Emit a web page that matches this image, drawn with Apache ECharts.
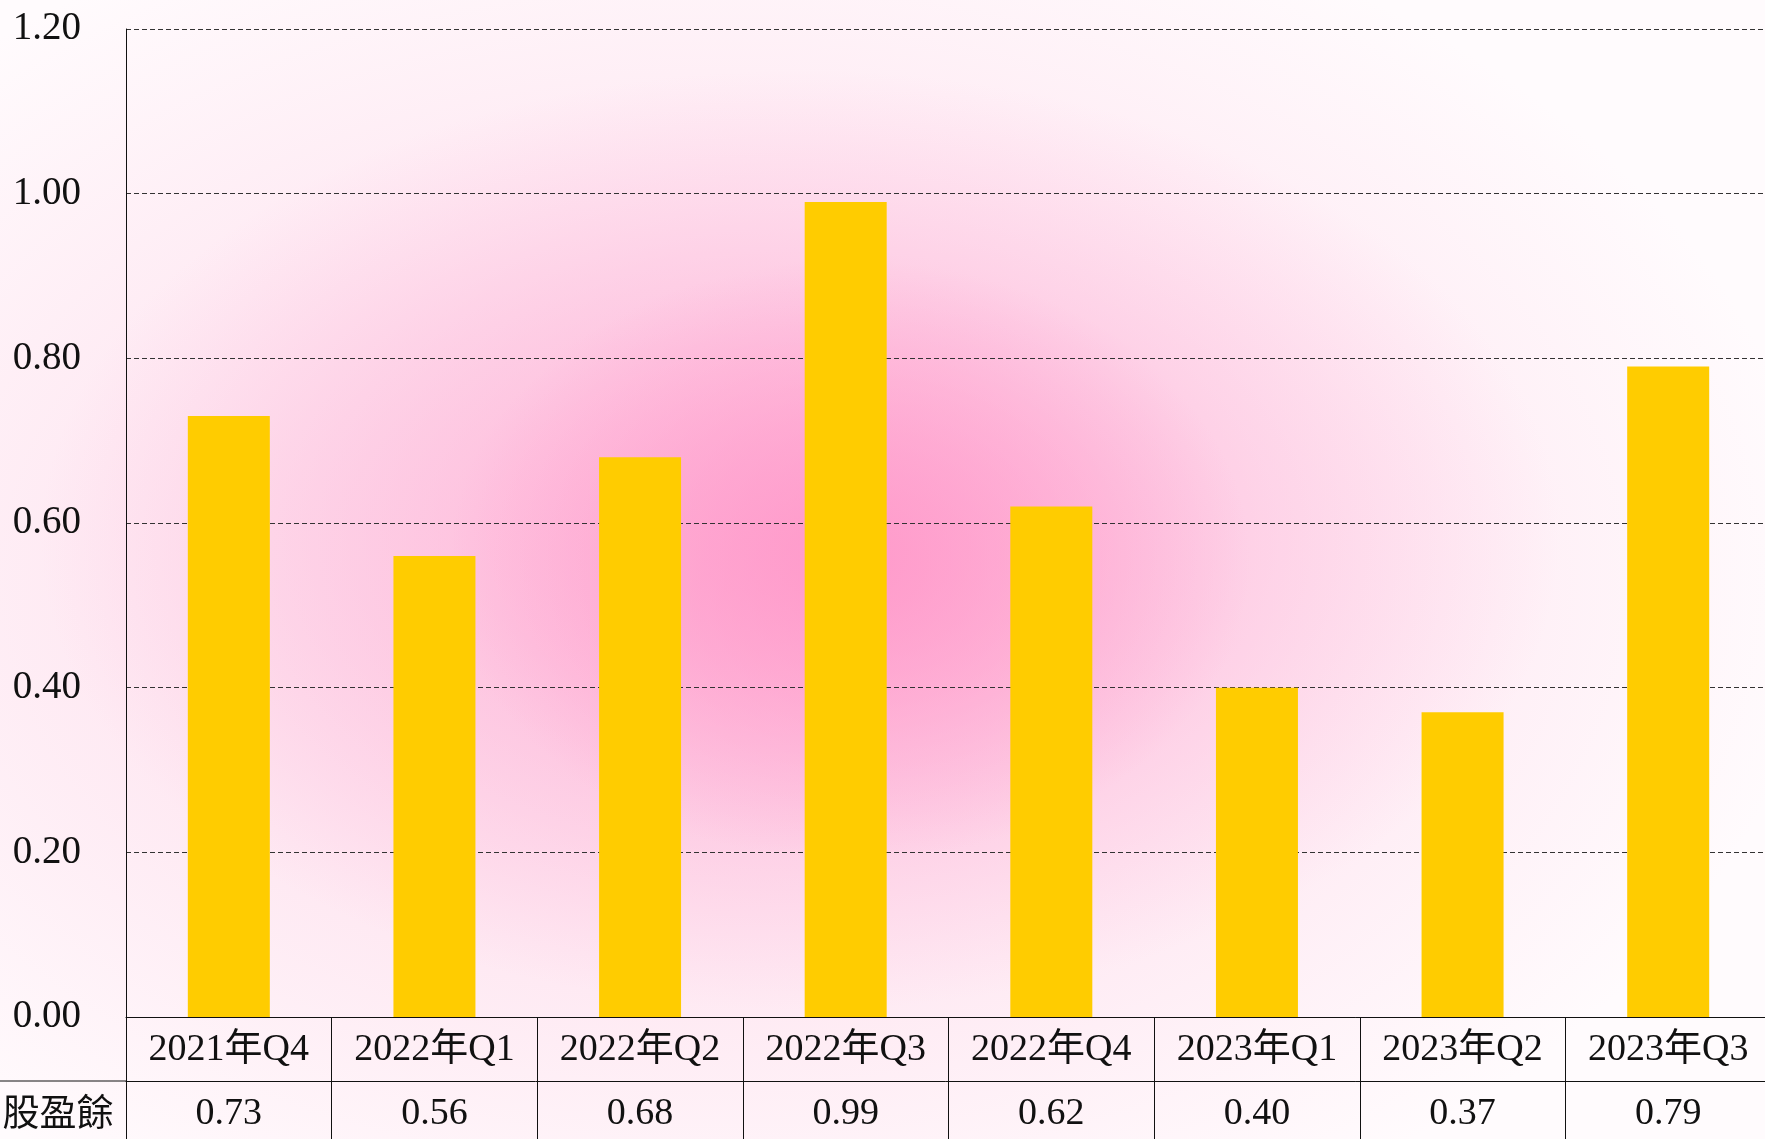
<!DOCTYPE html>
<html>
<head>
<meta charset="utf-8">
<script src="https://cdn.jsdelivr.net/npm/echarts@6/dist/echarts.min.js"></script>
<style>
  html, body { margin: 0; padding: 0; background: #fff; }
  #chart {
    width: 1765px; height: 1139px;
    background:
      radial-gradient(ellipse 400px 300px at 850px 560px, rgba(255,150,200,0.85), rgba(255,150,200,0) 100%),
      radial-gradient(ellipse 760px 470px at 800px 540px, rgba(255,170,212,0.85), rgba(255,170,212,0) 100%),
      radial-gradient(ellipse 1100px 720px at 720px 580px, rgba(253,208,228,0.95), rgba(253,208,228,0) 100%),
      #fffbfd;
  }
</style>
</head>
<body>
<div id="chart"></div>
<script>
// 資料
const quarters = ['2021年Q4', '2022年Q1', '2022年Q2', '2022年Q3', '2022年Q4', '2023年Q1', '2023年Q2', '2023年Q3'];
const eps = [0.73, 0.56, 0.68, 0.99, 0.62, 0.40, 0.37, 0.79];
const rowName = '股盈餘';

const FONT = "'Liberation Serif', 'Noto Sans CJK TC', serif";
const GRID_LEFT = 126, GRID_TOP = 29, GRID_BOTTOM = 122, GRID_WIDTH = 1645;
const ROW_H = 64;
const H = 1139;
const axisY = H - GRID_BOTTOM;       // x 軸所在位置
const rowY = axisY + ROW_H;          // 表格分隔線

const chart = echarts.init(document.getElementById('chart'), null, { renderer: 'canvas' });

chart.setOption({
  backgroundColor: 'transparent',
  animation: false,
  grid: {
    left: GRID_LEFT, width: GRID_WIDTH, top: GRID_TOP, bottom: GRID_BOTTOM,
    containLabel: false, outerBoundsMode: 'none'
  },
  xAxis: [
    {
      type: 'category',
      data: quarters,
      position: 'bottom',
      axisLine: { show: true, lineStyle: { color: '#111', width: 1 } },
      axisTick: { show: true, interval: 0, length: 130, lineStyle: { color: '#111', width: 1 } },
      axisLabel: {
        interval: 0, margin: 13, fontSize: 38, lineHeight: 40,
        color: '#111', fontFamily: FONT
      },
      splitLine: { show: false }
    },
    {
      type: 'category',
      data: quarters,
      position: 'bottom',
      offset: ROW_H,
      axisLine: { show: true, lineStyle: { color: '#111', width: 1 } },
      axisTick: { show: false },
      axisLabel: {
        interval: 0, margin: 13, fontSize: 38, lineHeight: 40,
        color: '#111', fontFamily: FONT,
        formatter: (v, i) => eps[i].toFixed(2)
      }
    }
  ],
  yAxis: {
    type: 'value',
    min: 0, max: 1.2, interval: 0.2,
    axisLine: { show: true, lineStyle: { color: '#111', width: 1 } },
    axisTick: { show: false },
    axisLabel: {
      margin: 45, fontSize: 39, color: '#111', fontFamily: FONT,
      formatter: v => v.toFixed(2)
    },
    splitLine: { show: true, lineStyle: { color: '#333', width: 1, type: [5, 3] } }
  },
  series: [{
    type: 'bar',
    data: eps,
    barWidth: 82,
    itemStyle: { color: '#FFCC00' }
  }],
  graphic: [
    {
      type: 'line',
      shape: { x1: 0, y1: rowY, x2: GRID_LEFT, y2: rowY },
      style: { stroke: '#111', lineWidth: 1 }
    },
    {
      type: 'text',
      style: {
        x: 58, y: rowY + 31, text: rowName,
        font: "37px 'Noto Sans CJK TC'", fill: '#111',
        align: 'center', verticalAlign: 'middle'
      }
    }
  ]
});

window.addEventListener('resize', () => chart.resize());
</script>
</body>
</html>
